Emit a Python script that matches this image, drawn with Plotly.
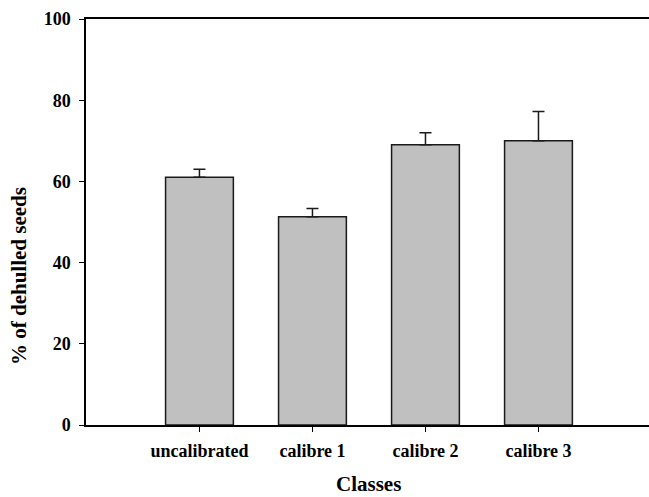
import plotly.graph_objects as go

classes = ["uncalibrated", "calibre 1", "calibre 2", "calibre 3"]
dehulled_pct = [61.0, 51.3, 69.0, 70.0]
dehulled_err = [2.0, 2.0, 3.0, 7.2]
y_ticks = [0, 20, 40, 60, 80, 100]

font_family = "Liberation Serif, Times New Roman, serif"

fig = go.Figure()
fig.add_trace(go.Bar(
    x=list(range(len(classes))),
    y=dehulled_pct,
    width=0.6,
    marker=dict(color="#c0c0c0", line=dict(color="#1a1a1a", width=1.5)),
    error_y=dict(type="data", array=dehulled_err, arrayminus=[0] * len(classes),
                 symmetric=False, color="#1a1a1a", thickness=1.5, width=6),
    showlegend=False,
))

fig.update_layout(
    width=649, height=497,
    margin=dict(l=86, r=0, t=19, b=72),
    paper_bgcolor="white", plot_bgcolor="white",
    font=dict(family=font_family, color="black"),
    bargap=0.4,
)

fig.update_xaxes(
    range=[-1.004, 3.978],
    tickmode="array", tickvals=list(range(len(classes))), ticktext=classes,
    ticks="outside", ticklen=5, tickwidth=1.2, tickcolor="black",
    tickfont=dict(family=font_family, size=18, weight="bold"),
    ticklabelstandoff=4,
    showline=True, linecolor="black", linewidth=1.5, mirror=True,
    showgrid=False, zeroline=False,
)
fig.update_yaxes(
    range=[0, 100],
    tickmode="array", tickvals=y_ticks, ticktext=[str(v) for v in y_ticks],
    ticks="outside", ticklen=5, tickwidth=1.2, tickcolor="black",
    tickfont=dict(family=font_family, size=18, weight="bold"),
    ticklabelstandoff=5,
    showline=True, linecolor="black", linewidth=1.5,
    showgrid=False, zeroline=False,
)

fig.add_annotation(
    text="Classes", xref="paper", yref="paper",
    x=(369 - 86) / 563, y=-(484 - 425) / 406,
    showarrow=False, xanchor="center", yanchor="middle",
    font=dict(family=font_family, size=21, weight="bold", color="black"),
)
fig.add_annotation(
    text="% of dehulled seeds", xref="paper", yref="paper",
    x=-(86 - 19) / 563, y=(425 - 276) / 406, textangle=-90,
    showarrow=False, xanchor="center", yanchor="middle",
    font=dict(family=font_family, size=21, weight="bold", color="black"),
)

fig.write_html("out.html")
